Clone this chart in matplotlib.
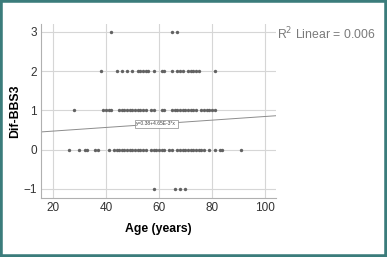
import numpy as np
import matplotlib
matplotlib.use("Agg")
import matplotlib.pyplot as plt
from matplotlib.patches import Rectangle

# ages, grouped by Dif-BBS3 value
ages_m1 = [58, 66, 68, 70]
ages_0 = [26, 30, 32, 33, 36, 37, 41, 43, 44, 45, 46, 47, 48, 49, 50, 51, 52, 53, 54, 55,
          57, 58, 59, 60, 61, 62, 64, 65, 67, 68, 69, 70, 71, 72, 73, 74, 75, 76, 77,
          79, 81, 83, 84, 91]
ages_1 = [28, 39, 40, 41, 42, 45, 46, 47, 48, 49, 50, 51, 52, 53, 54, 55, 57, 58, 61, 62,
          65, 66, 67, 68, 69, 70, 71, 72, 73, 74, 76, 77, 78, 79, 80, 81]
ages_2 = [38, 44, 46, 48, 50, 52, 53, 54, 55, 56, 58, 61, 62, 65, 67, 68, 69, 71, 72, 73,
          74, 75, 81]
ages_3 = [42, 65, 67]

intercept = 0.38
slope = 4.65e-3
r2 = 0.006

plt.rcParams['font.family'] = ['Liberation Sans', 'DejaVu Sans']

fig = plt.figure(figsize=(3.87, 2.57), dpi=100)
ax = fig.add_axes([41 / 387, 1 - 198 / 257, (276 - 41) / 387, (198 - 24) / 257])

xs = ages_m1 + ages_0 + ages_1 + ages_2 + ages_3
ys = [-1] * len(ages_m1) + [0] * len(ages_0) + [1] * len(ages_1) + [2] * len(ages_2) + [3] * len(ages_3)
ax.scatter(xs, ys, s=6, color='#626262', linewidths=0, zorder=3)

xlim = (15.5, 104.2)
lx = np.array(xlim)
ax.plot(lx, intercept + slope * lx, color='#8c8c8c', lw=0.7, zorder=2)

ax.set_xlim(*xlim)
ax.set_ylim(-1.23, 3.2)
ax.set_xticks([20, 40, 60, 80, 100])
ax.set_yticks([-1, 0, 1, 2, 3])
ax.grid(True, color='#d6d6d6', lw=0.8)
ax.set_axisbelow(True)
for side in ['top', 'right']:
    ax.spines[side].set_visible(False)
for side in ['left', 'bottom']:
    ax.spines[side].set_color('#b0b0b0')
    ax.spines[side].set_linewidth(0.8)
ax.tick_params(length=0, labelsize=8.5, colors='#333333', pad=3)

ax.set_xlabel('Age (years)', fontsize=8.8, fontweight='bold', va='center')
ax.set_ylabel('Dif-BBS3', fontsize=8.8, fontweight='bold', va='center')
ax.xaxis.set_label_coords(0.5, -0.178)
ax.yaxis.set_label_coords(-0.11, 0.5)

ax.text(59, 0.66, 'y=0.38+4.65E-3*x', fontsize=3.6, ha='center', va='center', color='#444444',
        bbox=dict(boxstyle='square,pad=0.3', fc='white', ec='#888888', lw=0.5), zorder=4)

fig.text(277 / 387, 1 - 34 / 257, 'R$^2$ Linear = %.3f' % r2, fontsize=8.8, color='#7a7a7a',
         ha='left', va='center')

fig.patches.append(Rectangle((0, 0), 1, 1, transform=fig.transFigure, fill=False,
                             ec='#3b7c7b', lw=4))

fig.savefig('out.png', dpi=100)
